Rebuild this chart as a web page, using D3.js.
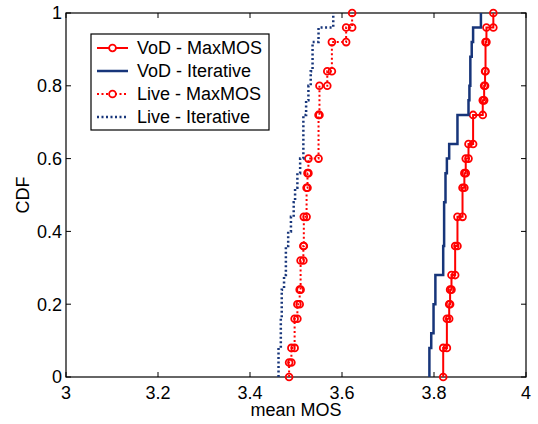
<!DOCTYPE html>
<html>
<head>
<meta charset="utf-8">
<script src="https://cdn.jsdelivr.net/npm/d3@7"></script>
<style>
  body { margin: 0; background: #fff; }
  svg text { font-family: "Liberation Sans", Arial, sans-serif; fill: #000; }
</style>
</head>
<body>
<svg id="chart" width="538" height="424"></svg>
<script>
// mean MOS samples (25 runs each)
let vodMaxMOS = [3.820, 3.820, 3.828, 3.828, 3.833, 3.835, 3.838, 3.846, 3.846, 3.851, 3.851, 3.862, 3.862,
                 3.866, 3.869, 3.875, 3.885, 3.885, 3.906, 3.909, 3.911, 3.912, 3.912, 3.914, 3.929];
let vodIterative = [3.790, 3.790, 3.794, 3.799, 3.799, 3.803, 3.803, 3.820, 3.820, 3.822, 3.822, 3.822, 3.825,
                    3.825, 3.828, 3.833, 3.851, 3.851, 3.875, 3.877, 3.879, 3.879, 3.882, 3.885, 3.902];
let liveMaxMOS = [3.485, 3.490, 3.497, 3.497, 3.503, 3.508, 3.510, 3.510, 3.516, 3.517, 3.517, 3.523, 3.523,
                  3.525, 3.527, 3.549, 3.549, 3.549, 3.551, 3.551, 3.568, 3.578, 3.578, 3.609, 3.622];
let liveIterative = [3.462, 3.462, 3.467, 3.467, 3.469, 3.469, 3.474, 3.478, 3.478, 3.483, 3.489, 3.495, 3.498,
                     3.503, 3.509, 3.516, 3.516, 3.516, 3.522, 3.527, 3.532, 3.536, 3.536, 3.549, 3.581];

let seriesNames = ['VoD - MaxMOS', 'VoD - Iterative', 'Live - MaxMOS', 'Live - Iterative'];
let xTicks = [3, 3.2, 3.4, 3.6, 3.8, 4];
let yTicks = [0, 0.2, 0.4, 0.6, 0.8, 1];

const red = '#ff0000', navy = '#17357a';
let series = [
  {name: seriesNames[0], data: vodMaxMOS, color: red, dash: null, marker: true},
  {name: seriesNames[1], data: vodIterative, color: navy, dash: null, marker: false},
  {name: seriesNames[2], data: liveMaxMOS, color: red, dash: '2,2.5', marker: true},
  {name: seriesNames[3], data: liveIterative, color: navy, dash: '2,2.5', marker: false}
];

const svg = d3.select('#chart');
const pLeft = 66, pRight = 526, pTop = 13, pBottom = 377;

let x = d3.scaleLinear().domain([3, 4]).range([pLeft, pRight]);
let y = d3.scaleLinear().domain([0, 1]).range([pBottom, pTop]);

// empirical cdf as stair corners
function stairs(values) {
  let n = values.length;
  let counts = d3.rollups(values.slice().sort(d3.ascending), v => v.length, d => d);
  let pts = [], F = 0, k = 0;
  counts.forEach(([v, c]) => {
    pts.push([v, F]);
    k += c;
    F = k / n;
    pts.push([v, F]);
  });
  return pts;
}

let line = d3.line().x(d => x(d[0])).y(d => y(d[1]));

// axes box
svg.append('rect')
  .attr('x', pLeft).attr('y', pTop)
  .attr('width', pRight - pLeft).attr('height', pBottom - pTop)
  .attr('fill', 'none').attr('stroke', '#000').attr('stroke-width', 1.2);

const tl = 5;
xTicks.forEach(t => {
  svg.append('line').attr('x1', x(t)).attr('x2', x(t)).attr('y1', pBottom).attr('y2', pBottom - tl).attr('stroke', '#000');
  svg.append('line').attr('x1', x(t)).attr('x2', x(t)).attr('y1', pTop).attr('y2', pTop + tl).attr('stroke', '#000');
  svg.append('text').attr('x', x(t)).attr('y', 399)
    .attr('text-anchor', 'middle').attr('font-size', 18).text(t);
});
yTicks.forEach(t => {
  svg.append('line').attr('x1', pLeft).attr('x2', pLeft + tl).attr('y1', y(t)).attr('y2', y(t)).attr('stroke', '#000');
  svg.append('line').attr('x1', pRight).attr('x2', pRight - tl).attr('y1', y(t)).attr('y2', y(t)).attr('stroke', '#000');
  svg.append('text').attr('x', 62).attr('y', y(t)).attr('dy', '0.35em')
    .attr('text-anchor', 'end').attr('font-size', 18).text(t);
});

svg.append('text').attr('x', (pLeft + pRight) / 2).attr('y', 416)
  .attr('text-anchor', 'middle').attr('font-size', 18).text('mean MOS');
svg.append('text').attr('transform', 'translate(29,' + ((pTop + pBottom) / 2) + ') rotate(-90)')
  .attr('text-anchor', 'middle').attr('font-size', 18).text('CDF');

// series
series.forEach(s => {
  let pts = stairs(s.data);
  svg.append('path')
    .attr('d', line(pts))
    .attr('fill', 'none')
    .attr('stroke', s.color)
    .attr('stroke-width', s.marker ? 2 : 2.5)
    .attr('stroke-dasharray', s.dash);
  if (s.marker) {
    svg.selectAll(null).data(pts).enter().append('circle')
      .attr('cx', d => x(d[0])).attr('cy', d => y(d[1]))
      .attr('r', 3.4)
      .attr('fill', 'none')
      .attr('stroke', s.color)
      .attr('stroke-width', 1.8);
  }
});

// legend
let lg = svg.append('g');
lg.append('rect').attr('x', 91).attr('y', 34).attr('width', 178).attr('height', 96)
  .attr('fill', '#fff').attr('stroke', '#000').attr('stroke-width', 1.2);
series.forEach((s, i) => {
  let cy = 48 + i * 23;
  lg.append('line').attr('x1', 97).attr('x2', 128).attr('y1', cy).attr('y2', cy)
    .attr('stroke', s.color).attr('stroke-width', s.marker ? 2 : 2.5)
    .attr('stroke-dasharray', s.dash);
  if (s.marker) {
    lg.append('circle').attr('cx', 112.5).attr('cy', cy).attr('r', 3.4)
      .attr('fill', '#fff').attr('stroke', s.color).attr('stroke-width', 1.8);
  }
  lg.append('text').attr('x', 137).attr('y', cy).attr('dy', '0.35em')
    .attr('font-size', 18).text(s.name);
});
</script>
</body>
</html>
